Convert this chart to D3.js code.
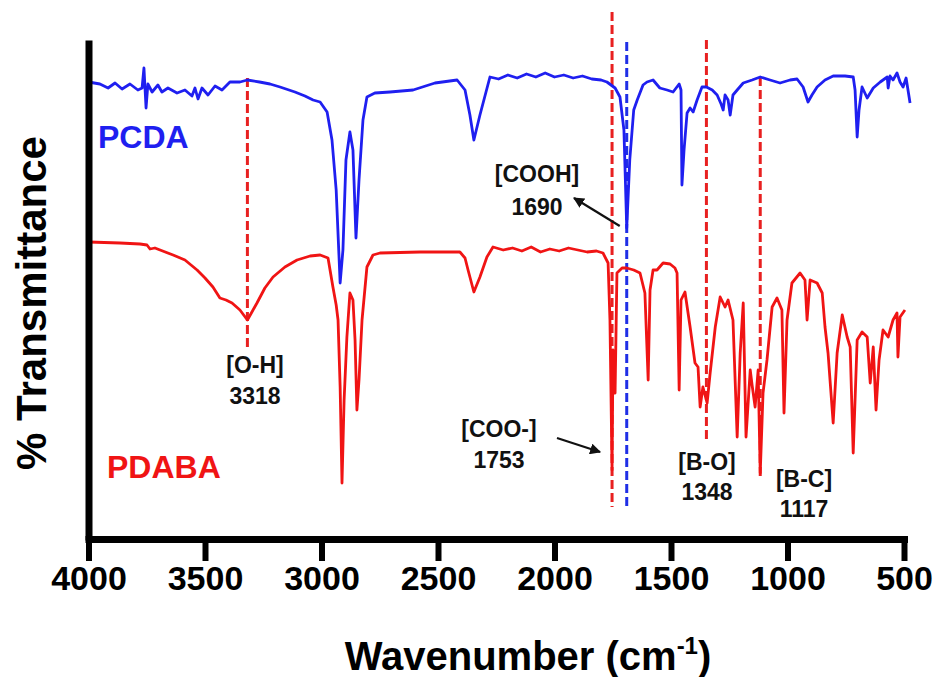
<!DOCTYPE html>
<html>
<head>
<meta charset="utf-8">
<script src="https://cdn.jsdelivr.net/npm/d3@7"></script>
<style>
  html, body { margin: 0; padding: 0; background: #fff; }
  svg { display: block; font-family: "Liberation Sans", Arial, Helvetica, sans-serif; font-weight: bold; }
</style>
</head>
<body>
<svg id="chart" width="941" height="677"></svg>
<script>
// FTIR spectra: wavenumber (cm-1) and relative transmittance (offset traces)
const pcdaWn = [4000,3951,3916,3886,3856,3822,3788,3770,3762,3753,3745,3727,3702,3685,3659,3620,3586,3556,3543,3530,3513,3487,3457,3427,3393,3350,3318,3266,3221,3178,3114,3071,3036,3006,2976,2955,2937,2920,2908,2895,2878,2865,2852,2839,2822,2805,2771,2706,2607,2513,2418,2384,2363,2346,2320,2277,2240,2200,2160,2120,2080,2040,2000,1960,1920,1880,1840,1800,1775,1740,1719,1702,1690,1677,1660,1645,1620,1603,1577,1548,1517,1491,1465,1457,1453,1444,1431,1418,1405,1388,1367,1348,1323,1302,1285,1276,1268,1255,1246,1234,1216,1190,1152,1117,1075,1032,989,959,933,912,895,873,839,804,753,718,710,701,693,680,658,632,602,572,568,560,547,530,517,504,491,474];
const pcdaT  = [91.6,91.2,90.4,91.4,90.2,91.2,90.0,90.4,94.4,86.4,91.2,89.6,91.0,89.6,90.4,89.4,90.0,88.8,90.4,88.2,90.4,89.0,90.8,90.0,91.6,91.6,92.0,91.6,91.2,90.6,89.6,88.8,88.0,87.6,85.6,80.0,70.0,51.4,58.0,76.0,81.6,78.0,60.4,72.0,84.0,88.6,89.4,89.6,90.0,91.4,92.0,90.0,85.0,80.0,85.0,92.6,92.2,93.0,92.4,93.2,92.6,93.4,92.6,93.0,92.4,92.8,92.2,92.0,91.6,90.4,88.6,82.0,62.4,76.0,86.0,88.0,91.0,91.6,92.0,90.4,90.0,89.6,91.2,90.0,71.0,78.0,85.4,86.4,85.6,88.0,90.6,90.6,90.0,89.0,87.2,86.0,89.0,88.0,85.0,89.0,90.0,91.4,92.0,92.6,92.0,91.4,92.0,92.2,90.6,87.6,89.0,90.6,92.0,92.8,92.8,92.6,90.0,80.6,86.0,90.6,88.4,90.4,91.6,92.6,90.4,92.8,92.0,93.4,91.6,90.6,92.4,87.4];

const pdabaWn = [4000,3865,3779,3749,3736,3715,3637,3586,3534,3500,3466,3436,3410,3384,3350,3318,3301,3277,3243,3208,3157,3105,3049,3006,2972,2951,2937,2929,2920,2912,2903,2891,2878,2865,2856,2848,2839,2826,2805,2779,2749,2577,2406,2384,2371,2346,2320,2290,2264,2220,2180,2140,2100,2060,2020,1980,1940,1900,1860,1820,1792,1770,1762,1753,1749,1740,1732,1710,1690,1660,1633,1612,1598,1590,1577,1560,1534,1504,1483,1474,1465,1457,1440,1418,1397,1384,1375,1363,1345,1332,1310,1289,1268,1255,1234,1216,1203,1190,1178,1160,1152,1139,1126,1117,1105,1088,1066,1045,1024,1015,1002,981,946,925,916,903,873,851,839,826,804,787,765,744,731,718,701,680,658,645,632,620,607,590,568,547,530,526,517,496];
const pdabaT  = [59.6,59.4,59.2,59.0,58.2,58.4,57.0,56.0,54.0,52.4,50.6,48.4,48.0,47.4,46.0,44.0,45.4,47.4,50.4,52.6,54.6,56.0,56.8,57.0,56.4,50.6,47.0,44.0,30.6,11.4,28.0,40.6,49.4,48.0,40.0,26.0,32.0,44.0,54.6,57.0,57.4,57.6,57.6,56.4,54.0,49.6,52.6,56.6,58.6,58.0,58.4,57.8,58.6,57.6,58.2,57.8,58.4,58.0,57.6,57.8,57.4,55.4,44.0,14.0,38.0,29.4,53.4,54.4,54.4,54.0,53.4,49.4,32.0,50.0,54.0,54.0,55.4,55.2,54.4,53.4,30.0,48.0,49.6,42.6,35.4,34.6,26.6,30.6,27.4,33.4,42.6,48.6,46.6,48.0,44.0,20.6,37.4,47.4,20.6,34.0,31.0,26.6,34.0,13.4,29.4,36.0,46.6,48.4,46.0,25.4,44.0,51.4,53.4,52.0,44.0,52.0,51.4,49.4,42.6,37.4,23.4,37.4,45.0,40.6,38.6,17.4,40.0,41.6,40.6,31.4,38.6,26.0,36.0,42.0,40.6,44.0,45.4,36.6,44.6,46.0];

const xTicks = [4000, 3500, 3000, 2500, 2000, 1500, 1000, 500];

// marked bands: wavenumber, bond, trace
const bandWn    = [3318, 1753, 1690, 1348, 1117];
const bandBond  = ["[O-H]", "[COO-]", "[COOH]", "[B-O]", "[B-C]"];
const bandTrace = ["PDABA", "PDABA", "PCDA", "PDABA", "PDABA"];

const seriesNames  = ["PCDA", "PDABA"];
const seriesColors = { PCDA: "#1f1ff0", PDABA: "#f01414" };

const svg = d3.select("#chart");
const x = d3.scaleLinear().domain([4000, 500]).range([88.5, 904]);
const y = d3.scaleLinear().domain([0, 100]).range([540, 40]);

// vertical band markers (dashed), per band: top and bottom in pixel space
const markerSpan = {
  3318: [78, 350], 1753: [12, 507], 1690: [42, 507], 1348: [40, 443], 1117: [77, 480]
};
bandWn.forEach((wn, i) => {
  svg.append("line")
    .attr("x1", x(wn)).attr("x2", x(wn))
    .attr("y1", markerSpan[wn][0]).attr("y2", markerSpan[wn][1])
    .attr("stroke", bandTrace[i] === "PCDA" ? "#1f2fe6" : "#e82020")
    .attr("stroke-width", 3)
    .attr("stroke-dasharray", "9,4");
});

// spectra
const line = d3.line().x(d => x(d[0])).y(d => y(d[1]));
const traces = {
  PCDA: pcdaWn.map((w, i) => [w, pcdaT[i]]),
  PDABA: pdabaWn.map((w, i) => [w, pdabaT[i]])
};
seriesNames.forEach(name => {
  svg.append("path")
    .datum(traces[name])
    .attr("fill", "none")
    .attr("stroke", seriesColors[name])
    .attr("stroke-width", 2.8)
    .attr("stroke-linejoin", "round")
    .attr("d", line);
});

// series names
svg.append("text").attr("x", 98).attr("y", 148)
  .attr("fill", seriesColors.PCDA).attr("font-size", 32).text("PCDA");
svg.append("text").attr("x", 107).attr("y", 478)
  .attr("fill", seriesColors.PDABA).attr("font-size", 32).text("PDABA");

// band labels
const labelPos = {
  3318: [255, 373, 404], 1753: [499, 437, 468], 1690: [537, 182, 215],
  1348: [707, 470, 500], 1117: [804, 487, 517]
};
bandWn.forEach((wn, i) => {
  const [cx, y1, y2] = labelPos[wn];
  svg.append("text").attr("x", cx).attr("y", y1).attr("text-anchor", "middle")
    .attr("font-size", 23).attr("fill", "#111").text(bandBond[i]);
  svg.append("text").attr("x", cx).attr("y", y2).attr("text-anchor", "middle")
    .attr("font-size", 23).attr("fill", "#111").text(wn);
});

// arrows pointing at the carbonyl bands
svg.append("defs").append("marker")
  .attr("id", "head").attr("viewBox", "0 0 10 10")
  .attr("refX", 9).attr("refY", 5)
  .attr("markerWidth", 5).attr("markerHeight", 5)
  .attr("orient", "auto")
  .append("path").attr("d", "M0,0 L10,5 L0,10 z").attr("fill", "#111");
svg.append("line").attr("x1", x(1690) - 7).attr("y1", 226).attr("x2", 574).attr("y2", 198)
  .attr("stroke", "#111").attr("stroke-width", 2.2).attr("marker-end", "url(#head)");
svg.append("line").attr("x1", 557).attr("y1", 438).attr("x2", x(1753) - 12).attr("y2", 452)
  .attr("stroke", "#111").attr("stroke-width", 2.2).attr("marker-end", "url(#head)");

// axes
const xAxis = svg.append("g").attr("transform", "translate(0,539)")
  .call(d3.axisBottom(x).tickValues(xTicks).tickFormat(d3.format("d"))
    .tickSize(22).tickSizeOuter(0).tickPadding(5));
xAxis.select(".domain").attr("stroke", "#000").attr("stroke-width", 7).attr("stroke-linecap", "square");
xAxis.selectAll(".tick line").attr("stroke", "#000").attr("stroke-width", 6);
xAxis.selectAll(".tick text").attr("fill", "#000")
  .style("font-size", "34px").style("font-weight", "bold")
  .style("font-family", "'Liberation Sans', Arial, sans-serif");

const yAxis = svg.append("g").attr("transform", "translate(88.5,0)")
  .call(d3.axisLeft(y).tickValues([]).tickSizeOuter(0));
yAxis.select(".domain").attr("stroke", "#000").attr("stroke-width", 7);

// axis titles
const xt = svg.append("text").attr("x", 528).attr("y", 670).attr("text-anchor", "middle")
  .attr("font-size", 40).attr("fill", "#000");
xt.append("tspan").text("Wavenumber (cm");
xt.append("tspan").attr("font-size", 24).attr("dy", -16).text("-1");
xt.append("tspan").attr("dy", 16).text(")");

svg.append("text").attr("transform", "translate(46,303) rotate(-90)")
  .attr("text-anchor", "middle").attr("font-size", 42).attr("fill", "#000")
  .text("% Transmittance");
</script>
</body>
</html>
